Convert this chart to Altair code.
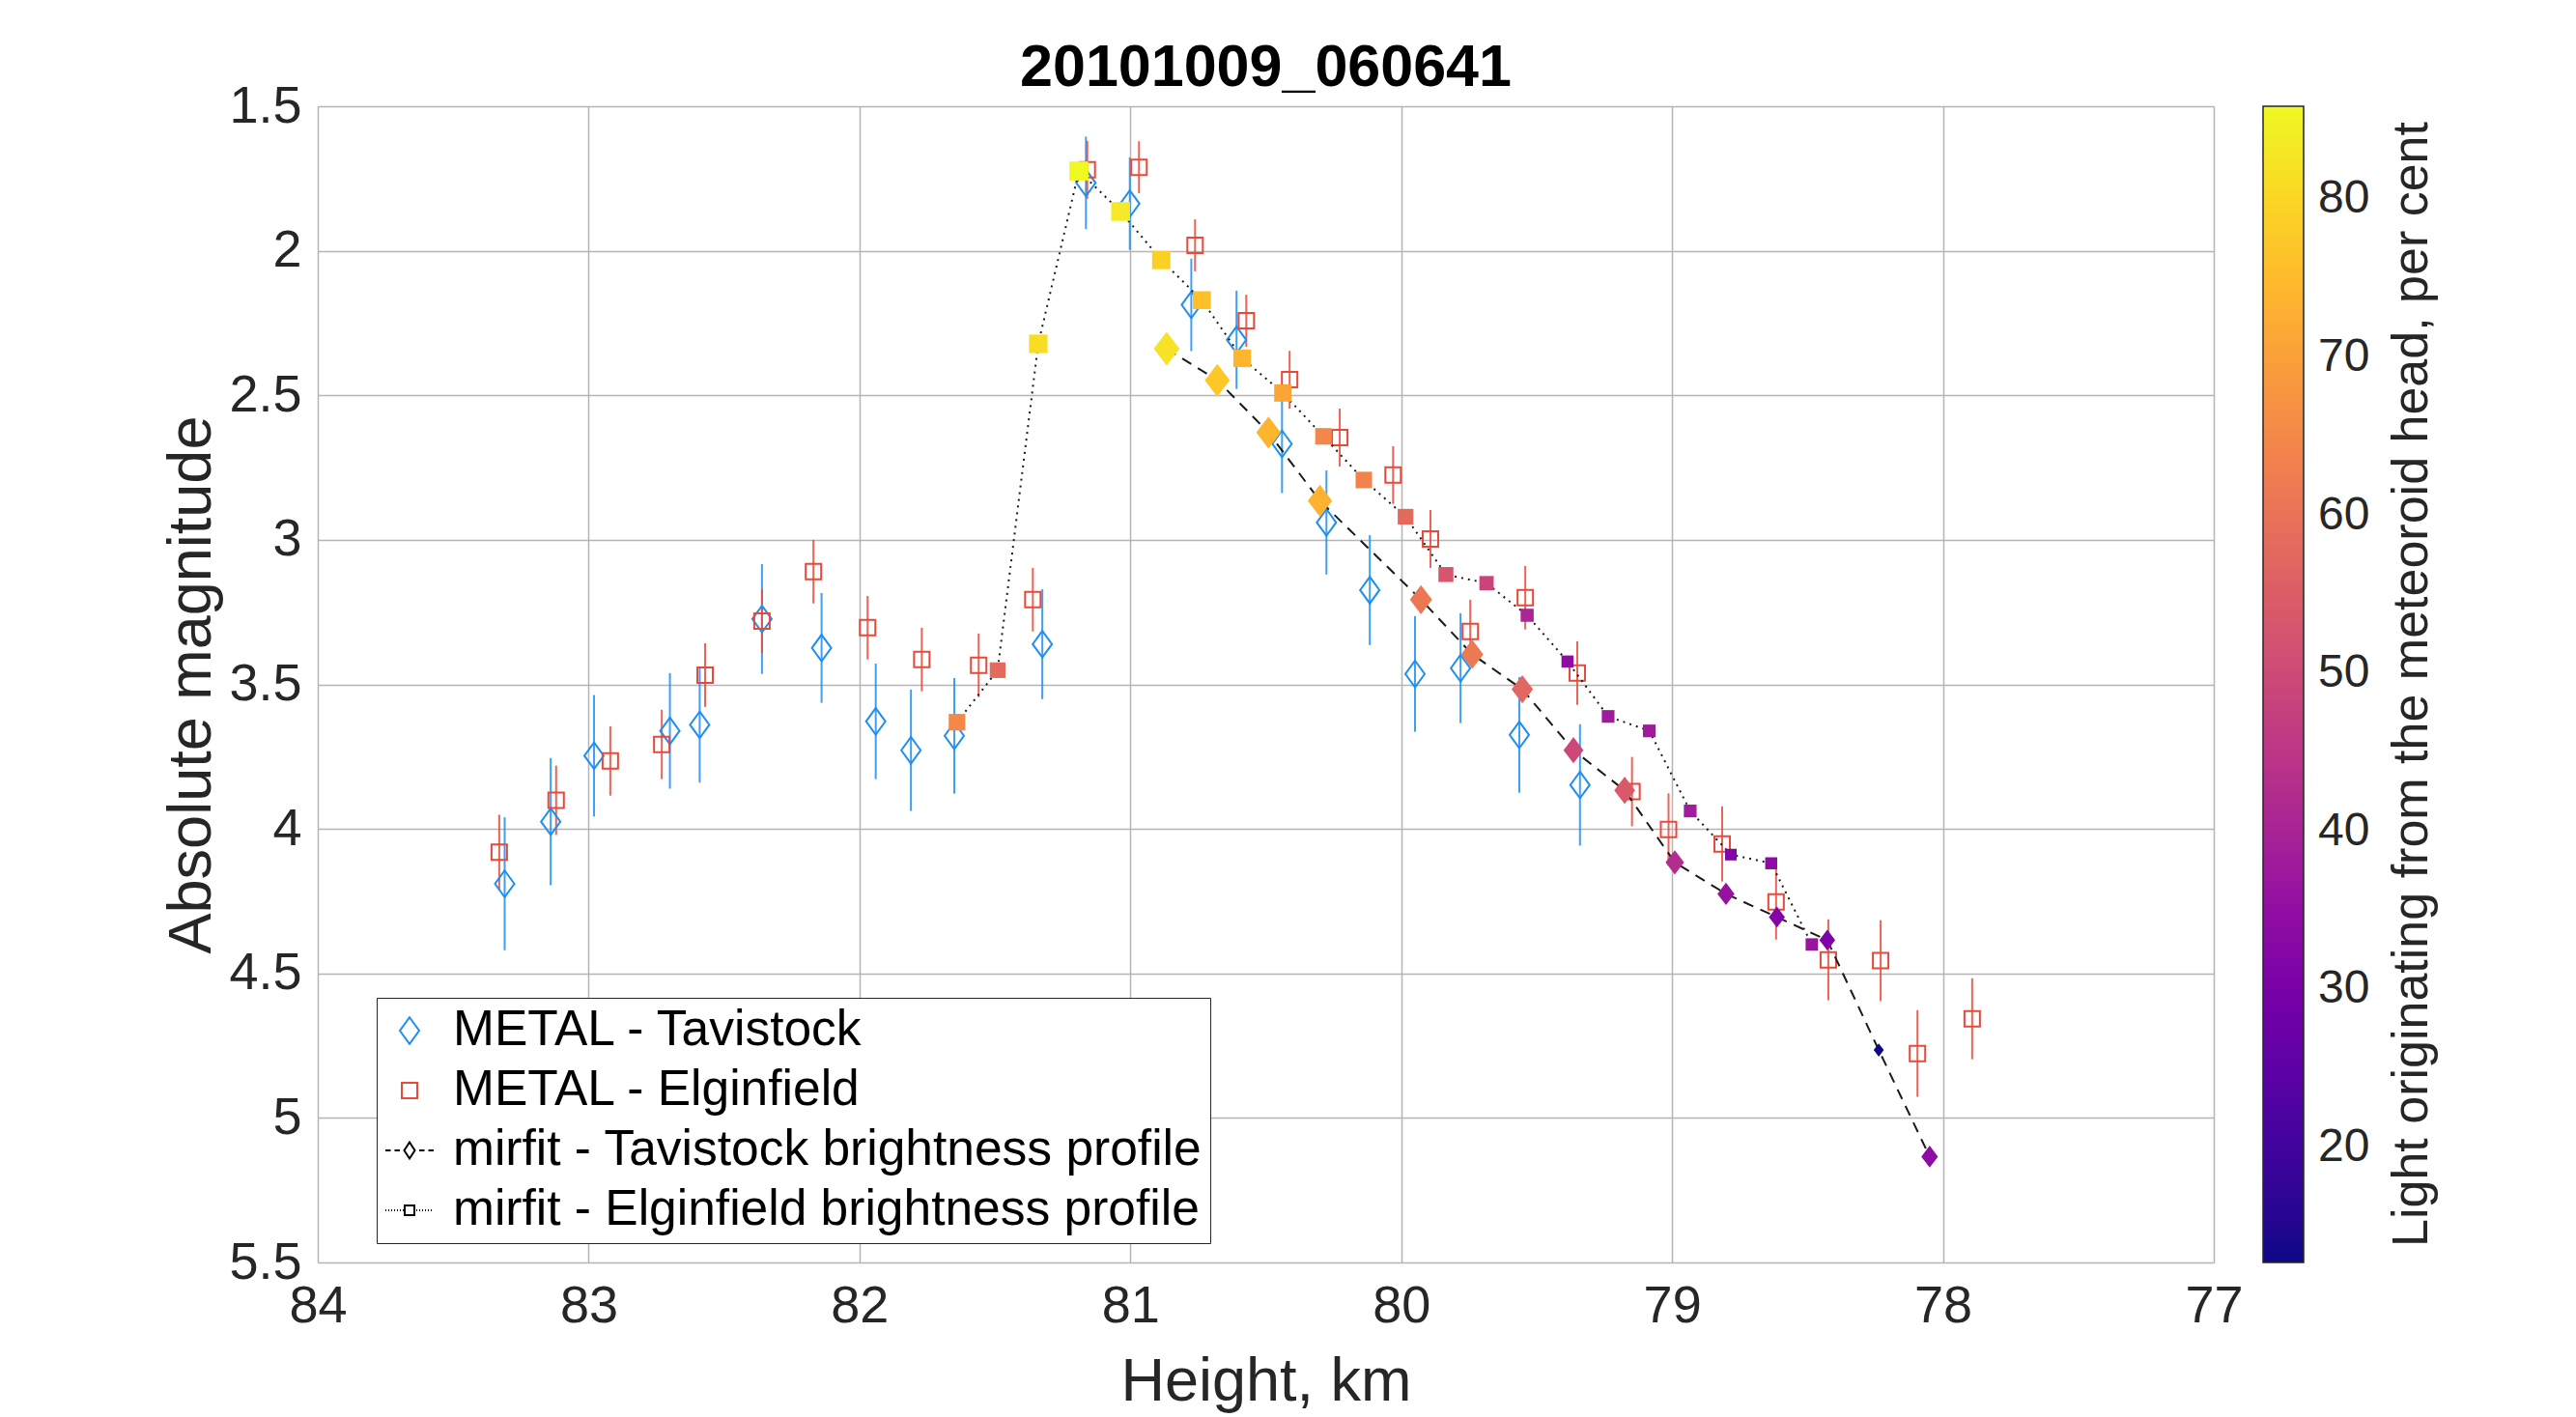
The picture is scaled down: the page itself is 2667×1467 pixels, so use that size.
import altair as alt
import pandas as pd

# ---------------- text ----------------
TITLE = "20101009_060641"
X_TITLE = "Height, km"
Y_TITLE = "Absolute magnitude"
CBAR_TITLE = "Light originating from the meteoroid head, per cent"
SERIES = [
    "METAL - Tavistock",
    "METAL - Elginfield",
    "mirfit - Tavistock brightness profile",
    "mirfit - Elginfield brightness profile",
]

# ---------------- ticks ----------------
X_TICKS = [77, 78, 79, 80, 81, 82, 83, 84]
Y_TICKS = [1.5, 2, 2.5, 3, 3.5, 4, 4.5, 5, 5.5]
CBAR_TICKS = [20, 30, 40, 50, 60, 70, 80]

# ---------------- METAL - Tavistock ----------------
tav_h = [83.31, 83.14, 82.98, 82.70, 82.59, 82.36, 82.14, 81.94, 81.81, 81.65, 81.325,
         81.164, 81.002, 80.775, 80.608, 80.44, 80.276, 80.116, 79.949, 79.781, 79.564, 79.34]
tav_m = [4.19, 3.975, 3.747, 3.661, 3.640, 3.274, 3.374, 3.628, 3.728, 3.678, 3.361,
         1.765, 1.837, 2.187, 2.308, 2.668, 2.940, 3.174, 3.464, 3.444, 3.675, 3.848]
tav_e = [0.23, 0.22, 0.21, 0.20, 0.20, 0.19, 0.19, 0.20, 0.21, 0.20, 0.19,
         0.16, 0.16, 0.16, 0.17, 0.17, 0.18, 0.19, 0.20, 0.19, 0.20, 0.21]

# ---------------- METAL - Elginfield ----------------
elg_h = [83.33, 83.12, 82.92, 82.73, 82.57, 82.36, 82.17, 81.97, 81.77, 81.56, 81.36,
         81.159, 80.968, 80.761, 80.572, 80.412, 80.227, 80.03, 79.892, 79.745, 79.542,
         79.35, 79.148, 79.013, 78.815, 78.616, 78.423, 78.23, 78.094, 77.892]
elg_m = [4.081, 3.901, 3.765, 3.708, 3.468, 3.281, 3.110, 3.304, 3.414, 3.434, 3.207,
         1.720, 1.711, 1.981, 2.242, 2.446, 2.646, 2.776, 2.997, 3.317, 3.200,
         3.461, 3.871, 4.002, 4.052, 4.253, 4.453, 4.456, 4.777, 4.657]
elg_e = [0.13, 0.12, 0.12, 0.12, 0.11, 0.11, 0.11, 0.11, 0.11, 0.11, 0.11,
         0.10, 0.09, 0.09, 0.09, 0.10, 0.10, 0.10, 0.10, 0.11, 0.11,
         0.11, 0.12, 0.125, 0.13, 0.13, 0.14, 0.14, 0.15, 0.14]

# ---------------- mirfit - Tavistock ----------------
mt_h = [80.866, 80.679, 80.49, 80.30, 79.927, 79.738, 79.553, 79.364, 79.175, 78.99,
        78.801, 78.613, 78.427, 78.237, 78.049]
mt_m = [2.339, 2.448, 2.629, 2.865, 3.207, 3.396, 3.517, 3.728, 3.867, 4.116,
        4.225, 4.305, 4.385, 4.765, 5.134]
mt_p = [82, 77.5, 74, 73.5, 61, 61.5, 57, 49.5, 54, 42.5, 36, 32, 31, 12.7, 34.5]

# ---------------- mirfit - Elginfield ----------------
me_h = [81.64, 81.49, 81.34, 81.19, 81.036, 80.886, 80.736, 80.587, 80.437, 80.287, 80.138,
        79.984, 79.835, 79.685, 79.535, 79.386, 79.236, 79.084, 78.933, 78.783, 78.634, 78.484]
me_m = [3.631, 3.451, 2.322, 1.724, 1.864, 2.032, 2.171, 2.372, 2.492, 2.642, 2.793,
        2.920, 3.120, 3.150, 3.261, 3.421, 3.611, 3.661, 3.938, 4.089, 4.119, 4.400]
me_p = [65, 58, 81, 85.8, 83.5, 79, 76, 74, 71, 64.5, 64,
        58, 53, 48.5, 40.5, 34.5, 38, 38, 38.5, 32, 34, 36.5]

# ---------------- styles ----------------
BLUE = "#1f8ef1"
RED = "#e8493a"
INK = "#262626"
FONT = "Liberation Sans"
PCT_DOMAIN = [12.7, 85.9]
SIZE_PER_PCT = 15.0   # marker area (px^2) per per cent of head light


def dashes(pattern_step, seg, lo, hi):
    parts = []
    v = lo
    while v < hi - 1e-9:
        parts.append("M%.3f,0H%.3f" % (v, min(v + seg, hi)))
        v += pattern_step
    return "".join(parts)


P_TAV = "M0,-0.55L0.4,0L0,0.55L-0.4,0Z"
P_ELG = "M-0.32,-0.32H0.32V0.32H-0.32Z"
P_MTAV = ("M-1,0H-0.78M-0.62,0H-0.4M0.4,0H0.62M0.78,0H1"
          "M0,-0.34L0.22,0L0,0.34L-0.22,0Z")
P_MELG = (dashes(0.12, 0.04, -1.0, -0.24) + dashes(0.12, 0.04, 0.28, 1.0)
          + "M-0.2,-0.2H0.2V0.2H-0.2Z")
M_DIAMOND = "M0,-1L0.76,0L0,1L-0.76,0Z"
M_SQUARE = "M-0.55,-0.55H0.55V0.55H-0.55Z"

# ---------------- tables ----------------
metal = pd.concat([
    pd.DataFrame({"h": tav_h, "m": tav_m, "e": tav_e, "series": SERIES[0], "ecolor": BLUE}),
    pd.DataFrame({"h": elg_h, "m": elg_m, "e": elg_e, "series": SERIES[1], "ecolor": RED}),
], ignore_index=True)
metal["lo"] = metal["m"] - metal["e"]
metal["hi"] = metal["m"] + metal["e"]

mir_tav = pd.DataFrame({"h": mt_h, "m": mt_m, "pct": mt_p})
mir_elg = pd.DataFrame({"h": me_h, "m": me_m, "pct": me_p})
for df in (mir_tav, mir_elg):
    df["sz"] = df["pct"] * SIZE_PER_PCT

# ---------------- scales / axes ----------------
xscale = alt.Scale(domain=[77, 84], reverse=True, nice=False, zero=False)
yscale = alt.Scale(domain=[1.5, 5.5], reverse=True, nice=False, zero=False)

xaxis = alt.Axis(values=X_TICKS, title=X_TITLE, grid=True, ticks=False, domain=False,
                 gridColor="#b5b5b5", gridWidth=1.5,
                 labelFont=FONT, labelFontSize=54, labelColor=INK, labelPadding=18,
                 titleFont=FONT, titleFontSize=63, titleColor=INK,
                 titleFontWeight="normal", titlePadding=20, labelFlush=False)
yaxis = alt.Axis(values=Y_TICKS, title=Y_TITLE, grid=True, ticks=False, domain=False,
                 gridColor="#b5b5b5", gridWidth=1.5, format="~g",
                 labelFont=FONT, labelFontSize=54, labelColor=INK, labelPadding=17,
                 titleFont=FONT, titleFontSize=63, titleColor=INK,
                 titleFontWeight="normal", titlePadding=6, labelFlush=False)


def X(field="h"):
    return alt.X(field + ":Q", scale=xscale, axis=xaxis)


def Y(field="m"):
    return alt.Y(field + ":Q", scale=yscale, axis=yaxis)


series_legend = alt.Legend(
    title=None, orient="none", legendX=61, legendY=923,
    strokeColor=INK, fillColor="white", padding=8,
    labelFont=FONT, labelFontSize=51.5, labelColor="black", labelLimit=0,
    labelOffset=19, rowPadding=10, symbolSize=2500, symbolStrokeWidth=2,
)
stroke_scale = alt.Scale(domain=SERIES, range=[BLUE, RED, "black", "black"])
shape_scale = alt.Scale(domain=SERIES, range=[P_TAV, P_ELG, P_MTAV, P_MELG])

cbar_legend = alt.Legend(
    title=None, orient="none", legendX=2014, legendY=0, direction="vertical",
    gradientLength=1197, gradientThickness=42,
    gradientStrokeColor=INK, gradientStrokeWidth=1.5,
    values=CBAR_TICKS, labelFont=FONT, labelFontSize=48, labelColor=INK,
    labelOffset=15,
)
fill_scale = alt.Scale(scheme="plasma", domain=PCT_DOMAIN)

# ---------------- layers ----------------
err = alt.Chart(metal).mark_rule(strokeWidth=2, opacity=0.85).encode(
    x=X(), y=Y("lo"), y2="hi:Q", color=alt.Color("ecolor:N", scale=None)
)

pts = alt.Chart(metal).mark_point(filled=False, strokeWidth=2, size=2500, opacity=1).encode(
    x=X(), y=Y(),
    stroke=alt.Stroke("series:N", scale=stroke_scale, legend=series_legend),
    shape=alt.Shape("series:N", scale=shape_scale, legend=series_legend),
)

line_tav = alt.Chart(mir_tav).mark_line(strokeDash=[11, 8], strokeWidth=2, color="#1a1a1a").encode(
    x=X(), y=Y()
)
line_elg = alt.Chart(mir_elg).mark_line(strokeDash=[2, 5], strokeWidth=2, color="#1a1a1a").encode(
    x=X(), y=Y()
)


def mir_points(df, path):
    return alt.Chart(df).mark_point(
        filled=True, shape=path, opacity=1, strokeWidth=0
    ).encode(
        x=X(), y=Y(),
        fill=alt.Fill("pct:Q", scale=fill_scale, legend=cbar_legend, title=None),
        size=alt.Size("sz:Q", scale=None),
    )


pts_melg = mir_points(mir_elg, M_SQUARE)
pts_mtav = mir_points(mir_tav, M_DIAMOND)

cbar_title = alt.Chart(pd.DataFrame({"t": [CBAR_TITLE]})).mark_text(
    angle=270, font=FONT, fontSize=52, color=INK, align="center", baseline="middle"
).encode(text="t:N", x=alt.value(2168), y=alt.value(598.5))

chart = alt.layer(err, pts, line_tav, line_elg, pts_melg, pts_mtav, cbar_title).properties(
    width=1963, height=1197,
    title=alt.TitleParams(TITLE, font=FONT, fontSize=61, fontWeight="bold",
                          color="black", anchor="middle", offset=-19),
    padding={"left": 321, "top": 102, "right": 360, "bottom": 158},
    autosize=alt.AutoSizeParams(type="none"),
).configure_view(stroke=INK, strokeWidth=2).configure(background="white")

chart.save("out.html", embed_options={"renderer": "svg", "actions": False})
